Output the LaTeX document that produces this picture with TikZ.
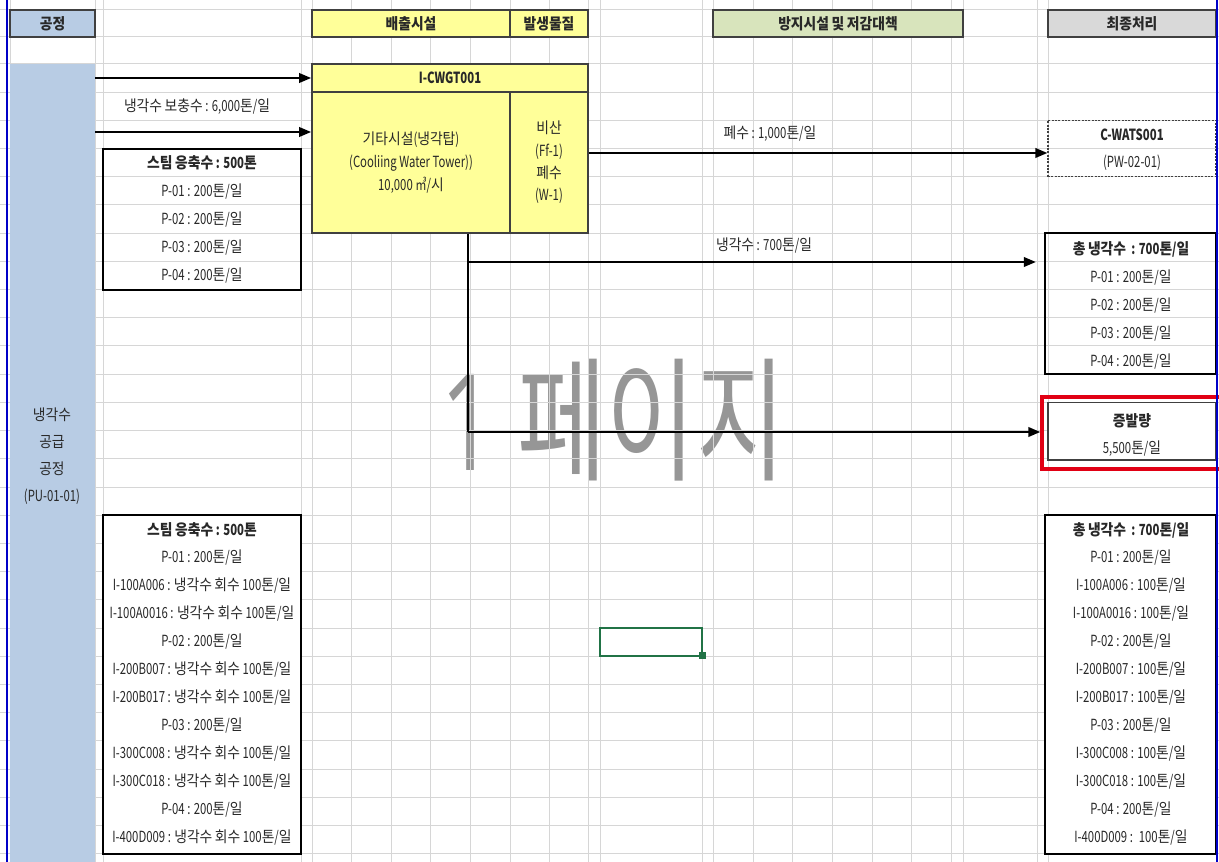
\documentclass[tikz,border=0pt]{standalone}
\usepackage{fontspec}
\setmainfont[FakeStretch=0.74]{Noto Sans CJK KR}
\newfontfamily\latfont[FakeStretch=0.74]{Noto Sans CJK KR}
\newfontfamily\hgfont[FakeStretch=0.90]{Noto Sans CJK KR}
\newfontfamily\wmfont[FakeStretch=0.72]{Noto Sans CJK KR}
\newfontfamily\wmlat[FakeStretch=0.72]{Open Sans}
\newcommand\wmsetup{\XeTeXinterchartokenstate=0\relax\wmfont\fontsize{101}{101}\selectfont}
\XeTeXinterchartokenstate=1
\newXeTeXintercharclass\hgclass
\count255="AC00
\loop
  \XeTeXcharclass\count255=\hgclass
  \ifnum\count255<"D7A3
  \advance\count255 by 1
\repeat
\XeTeXinterchartoks 0 \hgclass = {\hgfont}
\XeTeXinterchartoks 4095 \hgclass = {\hgfont}
\XeTeXinterchartoks \hgclass 0 = {\latfont}
\XeTeXinterchartoks \hgclass 4095 = {\latfont}
\usetikzlibrary{arrows.meta,fit}
\definecolor{gridc}{RGB}{214,214,214}
\definecolor{procblue}{RGB}{184,204,228}
\definecolor{yel}{RGB}{255,255,153}
\definecolor{grn}{RGB}{216,228,188}
\definecolor{gry}{RGB}{217,217,217}
\definecolor{edge}{RGB}{64,64,64}
\definecolor{txt}{RGB}{40,40,40}
\definecolor{bordblue}{RGB}{0,0,200}
\definecolor{redb}{RGB}{225,0,20}
\definecolor{xlgreen}{RGB}{33,115,70}
\definecolor{wm}{RGB}{150,150,150}
\begin{document}
\begin{tikzpicture}[x=0.75pt,y=-0.75pt,
  font=\fontsize{11.5}{14}\selectfont, text=txt,
  box/.style={inner sep=0pt, draw=edge, line width=1.2pt},
  frame/.style={inner sep=0pt, draw=black, line width=1.6pt},
  arr/.style={draw=black, line width=1.8pt, -{Triangle[length=9pt,width=7pt]}},
  flow/.style={draw=black, line width=1.8pt},
  bold/.style={font=\fontsize{11.5}{14}\selectfont\bfseries},
  gline/.style={gridc, line width=0.75pt}]
\useasboundingbox (0,0) rectangle (1219,862);
\fill[white] (0,0) rectangle (1219,862);
% watermark
\node[anchor=base, text=wm, font=\wmsetup, inner sep=0pt] (wmk) at (613,470) {{\wmlat 1} 페이지};
% grid
\foreach \x in {10,95,103,301,312,351,391,430,470,510,549,588,600,702,713,753,792,832,872,911,951,963,1037,1048,1216}
  \draw[gline] (\x,0) -- (\x,862);
\foreach \y in {10,37} \draw[gline] (0,\y) -- (1219,\y);
\foreach \k in {0,...,28} \draw[gline] (0,{64+28.2*\k}) -- (1219,{64+28.2*\k});
% process column
\node[fit={(10,64) (95,862)}, inner sep=0pt, fill=procblue] (proc) {};
\node[align=center, font=\fontsize{11.5}{20.25}\selectfont, inner sep=0pt] (proclbl) at (52,456) {냉각수\\공급\\공정\\(PU-01-01)};
% header row
\node[fit={(10,10) (95,37)}, box, fill=procblue] (h1) {};
\node[bold] (h1t) at (h1.center) {공정};
\node[fit={(312,10) (510,37)}, box, fill=yel] (h2) {};
\node[bold] (h2t) at (h2.center) {배출시설};
\node[fit={(510,10) (588,37)}, box, fill=yel] (h3) {};
\node[bold] (h3t) at (h3.center) {발생물질};
\node[fit={(713,10) (963,37)}, box, fill=grn] (h4) {};
\node[bold] (h4t) at (h4.center) {방지시설 및 저감대책};
\node[fit={(1048,10) (1216,37)}, box, fill=gry] (h5) {};
\node[bold] (h5t) at (h5.center) {최종처리};
% emission facility
\node[fit={(312,64) (588,92)}, box, fill=yel] (cwgt) {};
\node[bold] (cwgtt) at (cwgt.center) {I-CWGT001};
\node[fit={(312,92) (510,233)}, box, fill=yel] (cwgtb) {};
\node[align=center, font=\fontsize{11.5}{17.25}\selectfont] (cwgtbt) at (cwgtb.center) {기타시설(냉각탑)\\(Cooliing Water Tower))\\10,000 ㎥/시};
\node[fit={(510,92) (588,233)}, box, fill=yel] (subs) {};
\node[align=center, font=\fontsize{11.5}{16.7}\selectfont] (subst) at (subs.center) {비산\\(Ff-1)\\폐수\\(W-1)};
% upper left box
\node[fit={(103,148.6) (301,289.6)}, frame] (steam1) {};
\node[bold] (s1t) at (202,163) {스팀 응축수 : 500톤};
\foreach \t [count=\i] in {P-01 : 200톤/일, P-02 : 200톤/일, P-03 : 200톤/일, P-04 : 200톤/일}
  \node (s1l\i) at (202,{163+28.2*\i}) {\t};
% C-WATS
\node[fit={(1048,120.4) (1216,176.8)}, inner sep=0pt, draw=edge, line width=0.8pt, dash pattern=on 1.5pt off 1pt] (wats) {};
\node[bold] (watst) at (1132,135) {C-WATS001};
\node (watsl) at (1132,163) {(PW-02-01)};
% total cooling box
\node[fit={(1045,233.2) (1216,374.2)}, frame] (cool) {};
\node[bold] (coolt) at (1131,249) {총 냉각수 \ : 700톤/일};
\foreach \t [count=\i] in {P-01 : 200톤/일, P-02 : 200톤/일, P-03 : 200톤/일, P-04 : 200톤/일}
  \node (cooll\i) at (1131,{249+28.2*\i}) {\t};
% evaporation
\node[fit={(1048,402.4) (1216,460)}, box, fill=white] (evap) {};
\node[fit={(1042,397) (1221,469)}, inner sep=0pt, draw=redb, line width=2.4pt] (evapred) {};
\node[bold] (evapt) at (1132,421) {증발량};
\node (evapl) at (1132,449) {5,500톤/일};
% bottom left box
\node[fit={(103,515.2) (301,853.6)}, frame, fill=white] (steam2) {};
\node[bold] (s2t) at (202,530) {스팀 응축수 : 500톤};
\foreach \t [count=\i] in {P-01 : 200톤/일, I-100A006 : 냉각수 회수 100톤/일, I-100A0016 : 냉각수 회수 100톤/일, P-02 : 200톤/일, I-200B007 : 냉각수 회수 100톤/일, I-200B017 : 냉각수 회수 100톤/일, P-03 : 200톤/일, I-300C008 : 냉각수 회수 100톤/일, I-300C018 : 냉각수 회수 100톤/일, P-04 : 200톤/일, I-400D009 : 냉각수 회수 100톤/일}
  \node (s2l\i) at (202,{530+28.0*\i}) {\t};
% bottom right box
\node[fit={(1045,515.2) (1216,853.6)}, frame, fill=white] (cool2) {};
\node[bold] (c2t) at (1131,530) {총 냉각수 \ : 700톤/일};
\foreach \t [count=\i] in {P-01 : 200톤/일, I-100A006 : 100톤/일, I-100A0016 : 100톤/일, P-02 : 200톤/일, I-200B007 : 100톤/일, I-200B017 : 100톤/일, P-03 : 200톤/일, I-300C008 : 100톤/일, I-300C018 : 100톤/일, P-04 : 200톤/일, I-400D009 : \ 100톤/일}
  \node (c2l\i) at (1131,{530+28.0*\i}) {\t};
% selected cell
\node[fit={(600,628) (702,656)}, inner sep=0pt, draw=xlgreen, line width=1.5pt] (sel) {};
\fill[xlgreen] (699,652) rectangle (706,659);
% connectors
\draw[arr] (proc.east |- cwgt.west) -- (cwgt.west);
\draw[arr] (proc.east |- 0,132) -- (cwgtb.west |- 0,132);
\node (lbl1) at (197,107) {냉각수 보충수 : 6,000톤/일};
\draw[arr] (subs.east |- 0,153) -- (wats.west |- 0,153);
\node (lbl2) at (770,134) {폐수 : 1,000톤/일};
\coordinate (v0) at (cwgtb.south -| 468,0);
\coordinate (v1) at (468,262);
\coordinate (v2) at (468,432);
\draw[flow] (v0) -- (v2);
\draw[arr, shorten >=6pt] (v1) -- (cool.west |- v1);
\node (lbl3) at (764,246) {냉각수 : 700톤/일};
\draw[arr] (v2) -- (evapred.west |- v2);
% blue page borders
\draw[bordblue, line width=2.2pt] (7,0) -- (7,862);
\draw[bordblue, line width=2.2pt] (1217,0) -- (1217,862);
\end{tikzpicture}
\end{document}
